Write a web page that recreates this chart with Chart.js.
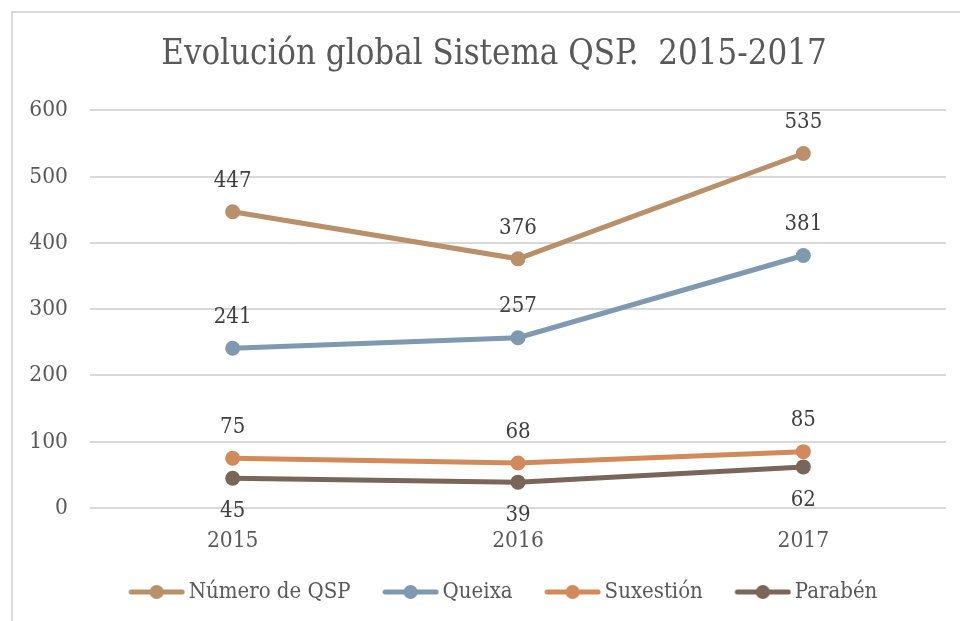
<!DOCTYPE html>
<html>
<head>
<meta charset="utf-8">
<script src="https://cdn.jsdelivr.net/npm/chart.js@4/dist/chart.umd.min.js"></script>
<style>
  html, body { margin: 0; padding: 0; background: #fff; }
  #wrap { position: relative; width: 960px; height: 621px; overflow: hidden; }
  #frame { position: absolute; left: 11px; top: 11px; width: 960px; height: 640px;
           border-left: 2px solid #d9d9d9; border-top: 2px solid #d9d9d9; }
  canvas { position: absolute; left: 0; top: 0; }
</style>
</head>
<body>
<div id="wrap">
  <div id="frame"></div>
  <canvas id="qspChart" width="990" height="621"></canvas>
</div>
<script>
const years = ["2015", "2016", "2017"];
const numeroQsp = [447, 376, 535];
const queixa = [241, 257, 381];
const suxestion = [75, 68, 85];
const paraben = [45, 39, 62];

const seriesNames = ["Número de QSP", "Queixa", "Suxestión", "Parabén"];
const seriesColors = ["#b8916a", "#7f99b0", "#d38a5a", "#7a6659"];
const labelBelow = [false, false, false, true];

const fontFamily = "'DejaVu Serif Condensed', 'DejaVu Serif', serif";

// legend picture: line with a dot, drawn off-centre so it sits close to the text
function legendIcon(color) {
  const c = document.createElement("canvas");
  c.width = 82;
  c.height = 16;
  const g = c.getContext("2d");
  g.strokeStyle = color;
  g.lineWidth = 5;
  g.lineCap = "round";
  g.beginPath();
  g.moveTo(28, 8);
  g.lineTo(79, 8);
  g.stroke();
  g.fillStyle = color;
  g.beginPath();
  g.arc(53.5, 8, 7, 0, Math.PI * 2);
  g.fill();
  return c;
}

// value labels above / below the points
const valueLabels = {
  id: "valueLabels",
  afterDatasetsDraw(chart) {
    const c = chart.ctx;
    c.save();
    c.font = "22px " + fontFamily;
    c.fillStyle = "#404040";
    c.textAlign = "center";
    c.textBaseline = "middle";
    chart.data.datasets.forEach((ds, i) => {
      const meta = chart.getDatasetMeta(i);
      meta.data.forEach((pt, j) => {
        const dy = labelBelow[i] ? 33 : -31;
        c.fillText(String(ds.data[j]), pt.x, pt.y + dy);
      });
    });
    c.restore();
  },
};

const allData = [numeroQsp, queixa, suxestion, paraben];

const ctx = document.getElementById("qspChart").getContext("2d");
new Chart(ctx, {
  type: "line",
  data: {
    labels: years,
    datasets: allData.map((d, i) => ({
      label: seriesNames[i],
      data: d,
      borderColor: seriesColors[i],
      backgroundColor: seriesColors[i],
      borderWidth: 5,
      pointRadius: 7.5,
      pointHoverRadius: 7.5,
      pointBorderWidth: 0,
      tension: 0,
      order: i,
    })),
  },
  options: {
    responsive: false,
    animation: false,
    layout: { padding: { left: 14, right: 16, top: 34, bottom: 8 } },
    scales: {
      x: {
        offset: true,
        grid: { display: false },
        border: { display: false },
        ticks: {
          color: "#595959",
          font: { family: fontFamily, size: 22.5 },
          padding: 12,
        },
      },
      y: {
        min: 0,
        max: 600,
        afterFit(scale) {
          scale.width = 76;
        },
        grid: { color: "#d9d9d9", lineWidth: 2, drawTicks: false },
        border: { display: false },
        ticks: {
          stepSize: 100,
          color: "#595959",
          font: { family: fontFamily, size: 22.5 },
          padding: 22,
        },
      },
      // empty right margin, so the title and legend centre like the original
      yRight: {
        position: "right",
        min: 0,
        max: 600,
        grid: { display: false },
        border: { display: false },
        ticks: { display: false },
        afterFit(scale) {
          scale.width = 28;
        },
      },
    },
    plugins: {
      title: {
        display: true,
        text: "Evolución global Sistema QSP.  2015-2017",
        color: "#595959",
        font: { family: fontFamily, size: 34.5, weight: "normal" },
        padding: { top: 0, bottom: 35 },
      },
      legend: {
        position: "bottom",
        labels: {
          color: "#595959",
          font: { family: fontFamily, size: 22 },
          usePointStyle: true,
          pointStyleWidth: 67,
          boxHeight: 16,
          padding: 14,
          generateLabels(chart) {
            return chart.data.datasets.map((ds, i) => ({
              text: ds.label,
              pointStyle: legendIcon(seriesColors[i]),
              fillStyle: seriesColors[i],
              strokeStyle: seriesColors[i],
              lineWidth: 0,
              hidden: false,
              datasetIndex: i,
              fontColor: "#595959",
            }));
          },
        },
      },
      tooltip: { enabled: false },
    },
  },
  plugins: [valueLabels],
});
</script>
</body>
</html>
